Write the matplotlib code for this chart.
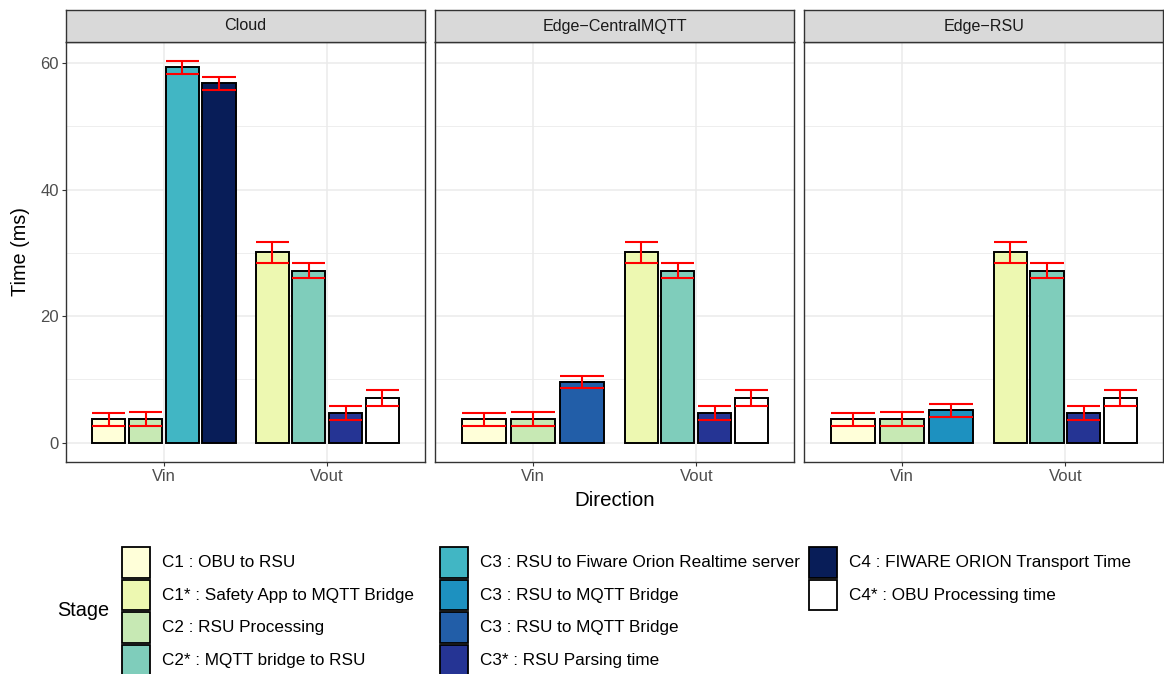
import numpy as np
import matplotlib
matplotlib.use("Agg")
import matplotlib.pyplot as plt
from matplotlib.patches import Rectangle

plt.rcParams['font.family'] = ['Liberation Sans', 'DejaVu Sans']

# ---- data ----
stages = ['C1 : OBU to RSU', 'C1* : Safety App to MQTT Bridge', 'C2 : RSU Processing',
          'C2* : MQTT bridge to RSU', 'C3 : RSU to Fiware Orion Realtime server',
          'C3 : RSU to MQTT Bridge', 'C3 : RSU to MQTT Bridge ', 'C3* : RSU Parsing time',
          'C4 : FIWARE ORION Transport Time', 'C4* : OBU Processing time']
stage_colors = ['#FFFFD9', '#EDF8B1', '#C7E9B4', '#7FCDBB', '#41B6C4',
                '#1D91C0', '#225EA8', '#253494', '#081D58', '#FFFFFF']

facets = ['Cloud', 'Edge\u2212CentralMQTT', 'Edge\u2212RSU']
directions = ['Vin', 'Vout']

# stage index per bar, mean, sd -- one list per facet for Vin
vin_stages = [[0, 2, 4, 8], [0, 2, 6], [0, 2, 5]]
vin_mean = [[3.7, 3.7, 59.3, 56.8], [3.7, 3.7, 9.6], [3.7, 3.7, 5.1]]
vin_sd = [[1.0, 1.1, 1.0, 1.0], [1.0, 1.1, 1.0], [1.0, 1.1, 1.05]]

# Vout is the same in every facet
vout_stages = [1, 3, 7, 9]
vout_mean = [30.1, 27.2, 4.7, 7.0]
vout_sd = [1.65, 1.2, 1.1, 1.25]

# ---- layout in pixels ----
W, H = 1164, 674
fig = plt.figure(figsize=(W / 100, H / 100), dpi=100)


def px(left, top, right, bottom):
    return [left / W, 1 - bottom / H, (right - left) / W, (bottom - top) / H]


panel_w = 359.1
lefts = [66, 66 + panel_w + 10, 66 + 2 * (panel_w + 10)]
p_top, p_bot, s_top = 42, 461.7, 10

ymax = max(max(m + s for m, s in zip(a, b)) for a, b in zip(vin_mean, vin_sd))
ymax = max(ymax, max(m + s for m, s in zip(vout_mean, vout_sd)))
ylim = (-0.05 * ymax, 1.05 * ymax)


def draw_group(ax, x0, idx, means, sds):
    n = len(idx)
    slot = 0.9 / n
    for i, (k, m, s) in enumerate(zip(idx, means, sds)):
        xc = x0 - 0.45 + (i + 0.5) * slot
        bw = slot * 0.9
        ax.bar(xc, m, width=bw, color=stage_colors[k], edgecolor='black',
               linewidth=1.4, zorder=2)
        # error bar: whisker plus caps as wide as the bar
        ax.vlines(xc, m - s, m + s, color='red', lw=1.5, zorder=3)
        ax.hlines([m - s, m + s], xc - bw / 2, xc + bw / 2, color='red', lw=1.5, zorder=3)


for j, name in enumerate(facets):
    ax = fig.add_axes(px(lefts[j], p_top, lefts[j] + panel_w, p_bot))
    draw_group(ax, 1, vin_stages[j], vin_mean[j], vin_sd[j])
    draw_group(ax, 2, vout_stages, vout_mean, vout_sd)
    ax.set_xlim(0.4, 2.6)
    ax.set_ylim(*ylim)
    ax.set_xticks([1, 2])
    ax.set_xticklabels(directions)
    ax.set_yticks([0, 20, 40, 60])
    ax.set_yticks([10, 30, 50], minor=True)
    ax.grid(True, which='major', color='#EBEBEB', lw=1.1, zorder=0)
    ax.grid(True, which='minor', axis='y', color='#EBEBEB', lw=0.6, zorder=0)
    ax.set_axisbelow(True)
    ax.tick_params(axis='both', which='major', length=2.75, width=0.8, color='#333333',
                   labelsize=12, labelcolor='#4D4D4D', pad=2.5)
    ax.tick_params(axis='y', which='minor', length=0)
    if j > 0:
        ax.tick_params(axis='y', which='both', left=False, labelleft=False)
    for sp in ax.spines.values():
        sp.set_color('#333333')
        sp.set_linewidth(1.0)

    st = fig.add_axes(px(lefts[j], s_top, lefts[j] + panel_w, p_top))
    st.set_facecolor('#D9D9D9')
    st.set_xticks([])
    st.set_yticks([])
    for sp in st.spines.values():
        sp.set_color('#333333')
        sp.set_linewidth(1.0)
    st.text(0.5, 0.5, name, ha='center', va='center', fontsize=11.6, color='#1A1A1A',
            transform=st.transAxes)

# ---- overlay for titles and legend ----
ov = fig.add_axes([0, 0, 1, 1], zorder=-1)
ov.set_xlim(0, W)
ov.set_ylim(H, 0)
ov.axis('off')

ov.text((lefts[0] + lefts[2] + panel_w) / 2, 500, 'Direction', ha='center', va='center',
        fontsize=14.8)
ov.text(21, (p_top + p_bot) / 2, 'Time (ms)', ha='center', va='center', rotation=90,
        fontsize=14.3)

ov.text(57, 611, 'Stage', ha='left', va='center', fontsize=14.3)
key_x = [121, 439, 808]
key_w, key_h, key_top = 30, 32.7, 546
for k, (lab, col) in enumerate(zip(stages, stage_colors)):
    c, r = divmod(k, 4)
    x = key_x[c]
    y = key_top + r * key_h
    ov.add_patch(Rectangle((x + 1, y + 1), key_w - 2, key_h - 2, facecolor=col,
                           edgecolor='black', lw=1.3))
    ov.text(x + key_w + 11, y + key_h / 2, lab.strip(), ha='left', va='center',
            fontsize=12.3)

fig.savefig('out.png', dpi=100)
